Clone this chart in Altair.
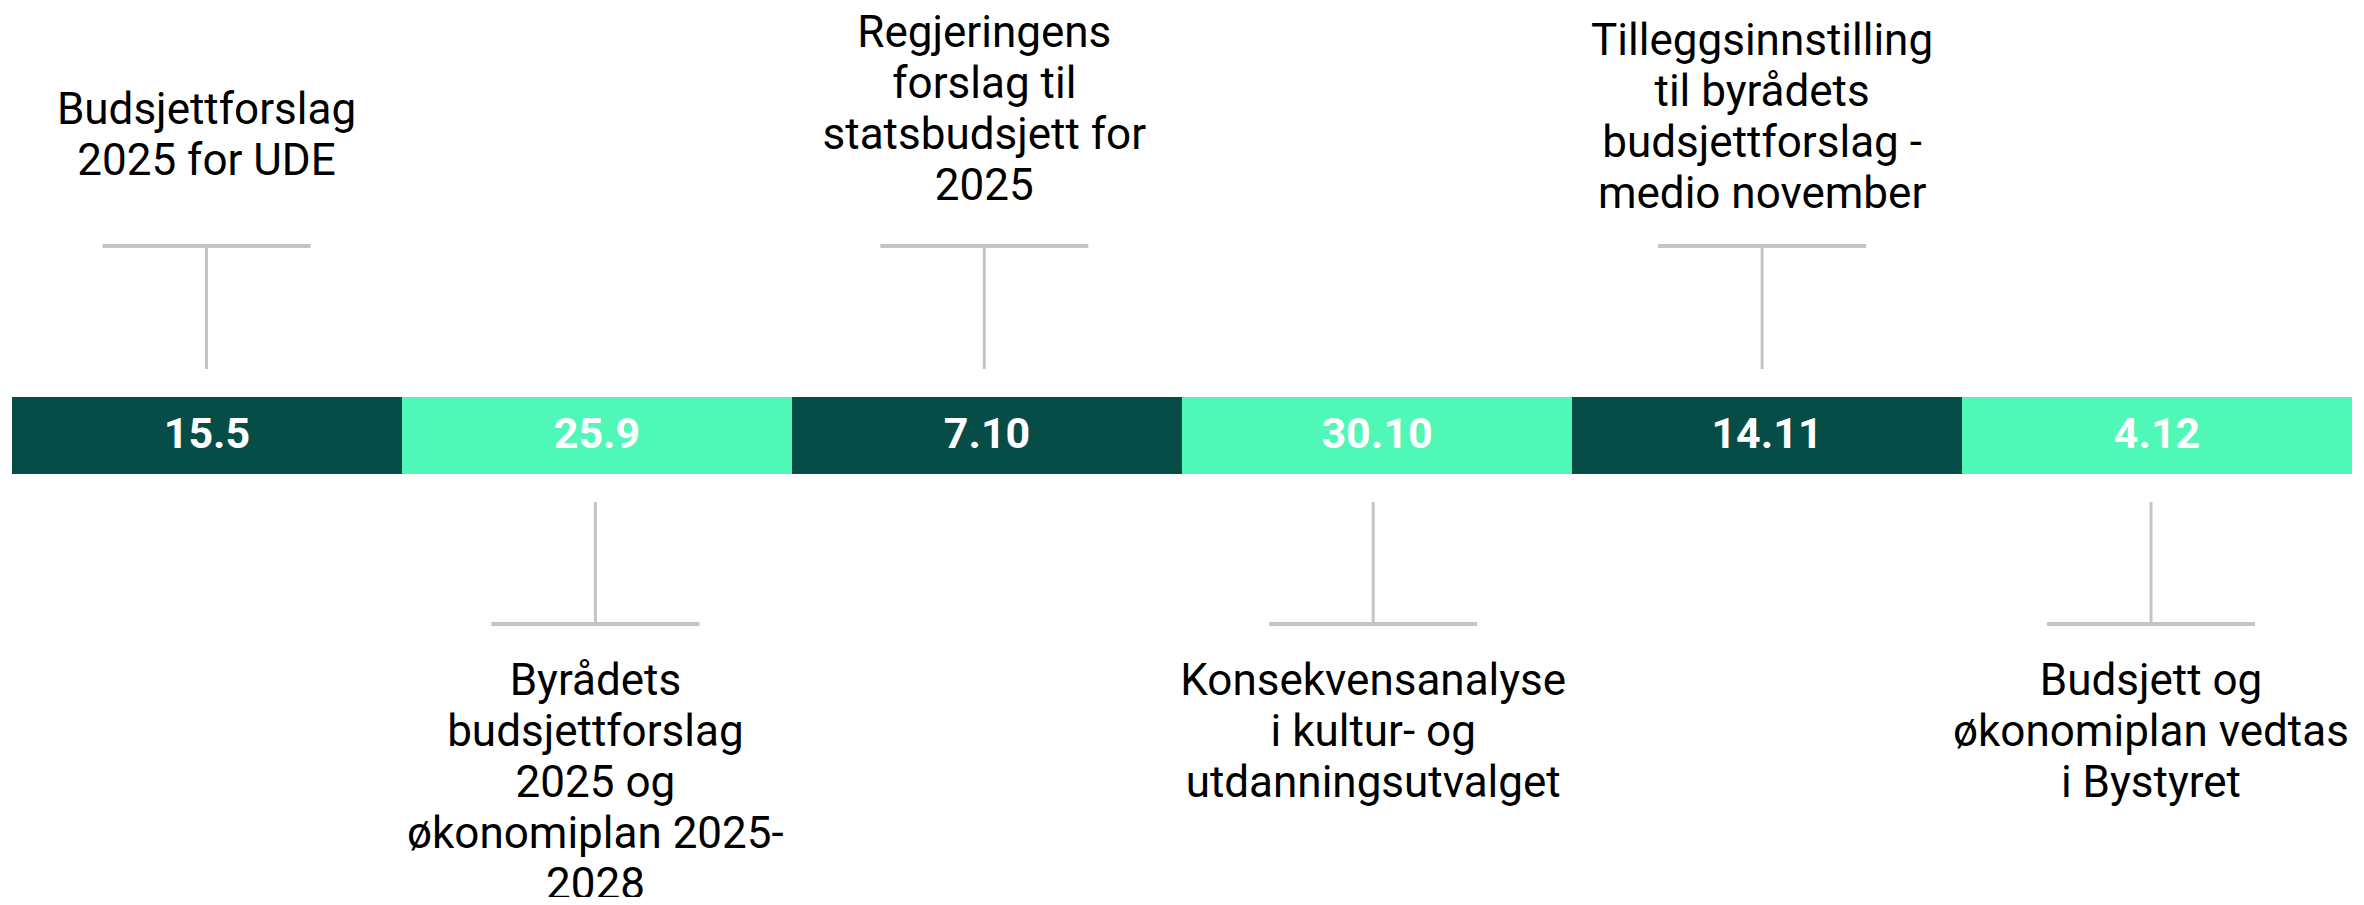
import altair as alt
import pandas as pd

# ---------------- data ----------------
dates = ["15.5", "25.9", "7.10", "30.10", "14.11", "4.12"]
events = [
    "Budsjettforslag\n2025 for UDE",
    "Byrådets\nbudsjettforslag\n2025 og\nøkonomiplan 2025-\n2028",
    "Regjeringens\nforslag til\nstatsbudsjett for\n2025",
    "Konsekvensanalyse\ni kultur- og\nutdanningsutvalget",
    "Tilleggsinnstilling\ntil byrådets\nbudsjettforslag -\nmedio november",
    "Budsjett og\nøkonomiplan vedtas\ni Bystyret",
]
sides = ["top", "bottom", "top", "bottom", "top", "bottom"]
shades = ["dark", "light", "dark", "light", "dark", "light"]

# ---------------- layout (pixels, plot coordinates) ----------------
W, H = 2348, 889
SEG_PX = 390.0
X_PAD = 4.0
CONN_START_PX = 194.5   # connector of first event, from bar's left edge
CONN_STEP_PX = 388.9    # connector spacing
BAR_TOP, BAR_BOTTOM = 389, 466
BAR_LABEL_Y = 440
TOP_HBAR_Y, TOP_VEND_Y = 238, 361
BOT_VSTART_Y, BOT_HBAR_Y = 494, 616
HALF_HBAR = 104 / SEG_PX
TOP_LABEL_FIRST = [116, None, 39, None, 47, None]
BOTTOM_LABEL_FIRST = 687
LINE_HEIGHT = 51

FONT = "Roboto"
DARK = "#054d46"
LIGHT = "#50f8b8"
GREY = "#c4c4c4"

n = len(dates)
rows = []
for i in range(n):
    top = sides[i] == "top"
    cx = (CONN_START_PX + CONN_STEP_PX * i) / SEG_PX
    rows.append(
        dict(
            start=i,
            end=i + 1,
            mid=i + 0.5,
            cx=cx,
            hl=cx - HALF_HBAR,
            hr=cx + HALF_HBAR,
            date=dates[i],
            event=events[i],
            shade=shades[i],
            v0=TOP_HBAR_Y if top else BOT_VSTART_Y,
            v1=TOP_VEND_Y if top else BOT_HBAR_Y,
            hy=TOP_HBAR_Y if top else BOT_HBAR_Y,
            ty=TOP_LABEL_FIRST[i] if top else BOTTOM_LABEL_FIRST,
        )
    )
df = pd.DataFrame(rows)

xs = alt.Scale(domain=[-X_PAD / SEG_PX, n + X_PAD / SEG_PX], nice=False, zero=False)
ys = alt.Scale(domain=[0, H], range=[0, H], nice=False, zero=False)

base = alt.Chart(df)

bars = base.mark_rect().encode(
    x=alt.X("start:Q", scale=xs, axis=None),
    x2="end:Q",
    y=alt.value(BAR_TOP),
    y2=alt.value(BAR_BOTTOM),
    color=alt.Color("shade:N", scale=alt.Scale(domain=["dark", "light"], range=[DARK, LIGHT]), legend=None),
)

bar_labels = base.mark_text(
    font=FONT, fontSize=43, fontWeight="bold", color="white", align="center", baseline="alphabetic"
).encode(
    x=alt.X("mid:Q", scale=xs, axis=None),
    y=alt.value(BAR_LABEL_Y),
    text="date:N",
)

vlines = base.mark_rule(color=GREY, strokeWidth=3).encode(
    x=alt.X("cx:Q", scale=xs, axis=None),
    y=alt.Y("v0:Q", scale=ys, axis=None),
    y2="v1:Q",
)

hlines = base.mark_rule(color=GREY, strokeWidth=4).encode(
    x=alt.X("hl:Q", scale=xs, axis=None),
    x2="hr:Q",
    y=alt.Y("hy:Q", scale=ys, axis=None),
)

labels = base.mark_text(
    font=FONT, fontSize=44, color="#000000", align="center", baseline="alphabetic",
    lineBreak="\n", lineHeight=LINE_HEIGHT,
).encode(
    x=alt.X("cx:Q", scale=xs, axis=None),
    y=alt.Y("ty:Q", scale=ys, axis=None),
    text="event:N",
)

chart = (
    alt.layer(bars, bar_labels, vlines, hlines, labels)
    .properties(width=W, height=H, padding=0, autosize=alt.AutoSizeParams(type="none"), background="white")
    .configure_view(stroke=None)
)

chart.save("out.html", embed_options={"renderer": "svg", "actions": False})
